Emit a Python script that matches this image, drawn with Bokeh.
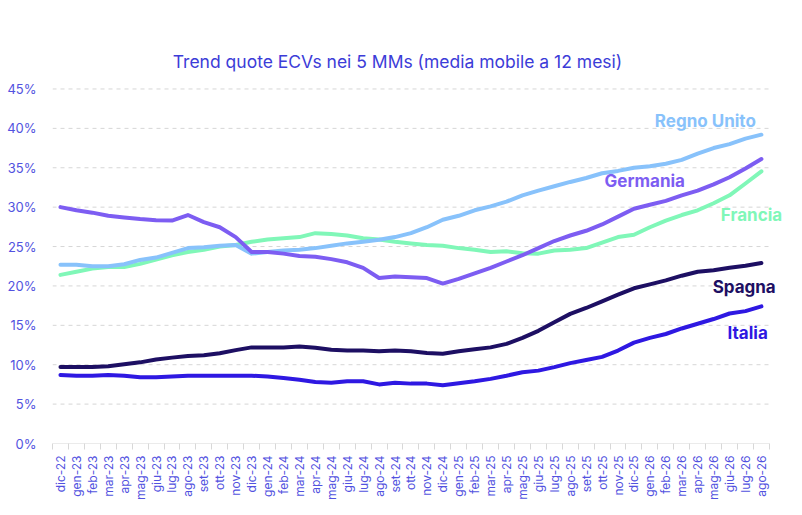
from math import pi
from bokeh.plotting import figure
from bokeh.models import (Range1d, FixedTicker, PrintfTickFormatter, Label)
from bokeh.embed import file_html
from bokeh.resources import INLINE

months = ["dic-22", "gen-23", "feb-23", "mar-23", "apr-23", "mag-23", "giu-23", "lug-23",
          "ago-23", "set-23", "ott-23", "nov-23", "dic-23", "gen-24", "feb-24", "mar-24",
          "apr-24", "mag-24", "giu-24", "lug-24", "ago-24", "set-24", "ott-24", "nov-24",
          "dic-24", "gen-25", "feb-25", "mar-25", "apr-25", "mag-25", "giu-25", "lug-25",
          "ago-25", "set-25", "ott-25", "nov-25", "dic-25", "gen-26", "feb-26", "mar-26",
          "apr-26", "mag-26", "giu-26", "lug-26", "ago-26"]

regno_unito = [22.7, 22.7, 22.5, 22.5, 22.75, 23.3, 23.6, 24.2, 24.8, 24.9,
               25.1, 25.2, 24.1, 24.3, 24.5, 24.6, 24.8, 25.1, 25.4, 25.6,
               25.85, 26.2, 26.7, 27.45, 28.4, 28.9, 29.6, 30.1, 30.7, 31.5,
               32.1, 32.65, 33.2, 33.7, 34.3, 34.6, 35.0, 35.2, 35.5, 36.0,
               36.8, 37.5, 38.0, 38.7, 39.2]
germania = [30.0, 29.6, 29.3, 28.9, 28.7, 28.5, 28.35, 28.3, 29.0, 28.1,
            27.45, 26.2, 24.3, 24.3, 24.1, 23.8, 23.7, 23.4, 23.0, 22.3,
            21.0, 21.2, 21.1, 21.0, 20.3, 20.9, 21.6, 22.3, 23.1, 23.9,
            24.8, 25.7, 26.4, 27.0, 27.8, 28.8, 29.8, 30.3, 30.8, 31.5,
            32.1, 32.9, 33.8, 34.9, 36.1]
francia = [21.4, 21.8, 22.2, 22.4, 22.4, 22.8, 23.35, 23.9, 24.3, 24.6,
           25.0, 25.2, 25.6, 25.9, 26.05, 26.2, 26.7, 26.6, 26.4, 26.05,
           25.9, 25.6, 25.4, 25.2, 25.1, 24.8, 24.6, 24.3, 24.4, 24.15,
           24.1, 24.5, 24.6, 24.8, 25.5, 26.2, 26.5, 27.45, 28.3, 29.0,
           29.6, 30.5, 31.5, 33.0, 34.55]
spagna = [9.7, 9.7, 9.7, 9.8, 10.05, 10.3, 10.65, 10.9, 11.1, 11.2,
          11.45, 11.85, 12.2, 12.2, 12.2, 12.3, 12.15, 11.9, 11.8, 11.8,
          11.7, 11.8, 11.7, 11.5, 11.4, 11.7, 11.95, 12.2, 12.65, 13.4,
          14.3, 15.4, 16.45, 17.2, 18.05, 18.9, 19.7, 20.2, 20.7, 21.3,
          21.8, 22.0, 22.3, 22.55, 22.9]
italia = [8.7, 8.6, 8.6, 8.7, 8.6, 8.4, 8.4, 8.5, 8.6, 8.6,
          8.6, 8.6, 8.6, 8.5, 8.3, 8.1, 7.8, 7.7, 7.9, 7.9,
          7.5, 7.7, 7.6, 7.6, 7.4, 7.65, 7.9, 8.2, 8.6, 9.05,
          9.25, 9.7, 10.2, 10.6, 11.0, 11.8, 12.8, 13.4, 13.9, 14.6,
          15.2, 15.8, 16.5, 16.8, 17.4]

y_ticks = [0, 5, 10, 15, 20, 25, 30, 35, 40, 45]
title_text = "Trend quote ECVs nei 5 MMs (media mobile a 12 mesi)"

FONT = "Inter"
AXIS_COLOR = "#5252e0"

series = [
    ("Italia", italia, "#2e18e2", 44.4, 14.0),
    ("Spagna", spagna, "#1d0f63", 44.9, 19.9),
    ("Francia", francia, "#80f7b8", 45.3, 29.0),
    ("Regno Unito", regno_unito, "#88c2fb", 43.65, 40.9),
    ("Germania", germania, "#7d5df2", 39.2, 33.3),
]

W, H = 786, 503
n = len(months)
p = figure(width=W, height=H, output_backend="svg", toolbar_location=None,
           x_range=Range1d(-0.5, 45.45), y_range=Range1d(0, 54.96),
           min_border_left=52, min_border_right=2, min_border_top=10,
           min_border_bottom=53)
p.outline_line_color = None
p.background_fill_color = "white"
p.border_fill_color = "white"
p.xgrid.grid_line_color = None
p.ygrid.grid_line_color = None

# dashed horizontal grid lines and base axis line, limited to the category span
grid_y = [t for t in y_ticks if t > 0]
p.segment(x0=[-0.5] * len(grid_y), x1=[n - 0.5] * len(grid_y), y0=grid_y, y1=grid_y,
          line_color="#d6d6d6", line_dash="4 4", line_width=1)
p.segment(x0=[-0.5], x1=[n - 0.5], y0=[0], y1=[0], line_color="#d8d8d8", line_width=1)

xs = list(range(n))
for name, vals, color, lx, ly in series:
    p.line(xs, vals, line_color=color, line_width=4, line_cap="round",
           line_join="round")

for name, vals, color, lx, ly in series:
    p.add_layout(Label(x=lx, y=ly, text=name, text_color=color,
                       text_font=FONT, text_font_size="17px",
                       text_font_style="bold", text_align="right",
                       text_baseline="alphabetic"))

# y axis
p.yaxis.ticker = FixedTicker(ticks=y_ticks)
p.yaxis.formatter = PrintfTickFormatter(format="%d%%")
p.yaxis.axis_line_color = None
p.yaxis.major_tick_line_color = None
p.yaxis.minor_tick_line_color = None
p.yaxis.major_label_text_color = AXIS_COLOR
p.yaxis.major_label_text_font = FONT
p.yaxis.major_label_text_font_size = "13px"
p.yaxis.major_label_standoff = 10

# x axis
p.xaxis.ticker = FixedTicker(ticks=xs, minor_ticks=[i - 0.5 for i in range(n + 1)])
p.xaxis.major_label_overrides = {i: m for i, m in enumerate(months)}
p.xaxis.major_label_orientation = pi / 2
p.xaxis.axis_line_color = None
p.xaxis.major_tick_line_color = None
p.xaxis.minor_tick_line_color = "#d8d8d8"
p.xaxis.minor_tick_out = 6
p.xaxis.minor_tick_in = 0
p.xaxis.major_label_text_color = AXIS_COLOR
p.xaxis.major_label_text_font = FONT
p.xaxis.major_label_text_font_size = "12px"
p.xaxis.major_label_standoff = 6

p.add_layout(Label(x=345, y=382, x_units="screen", y_units="screen",
                   text=title_text, text_color="#3c3cd8", text_font=FONT,
                   text_font_size="17.5px", text_align="center",
                   text_baseline="alphabetic"))

open("out.html", "w").write(file_html(p, INLINE))
